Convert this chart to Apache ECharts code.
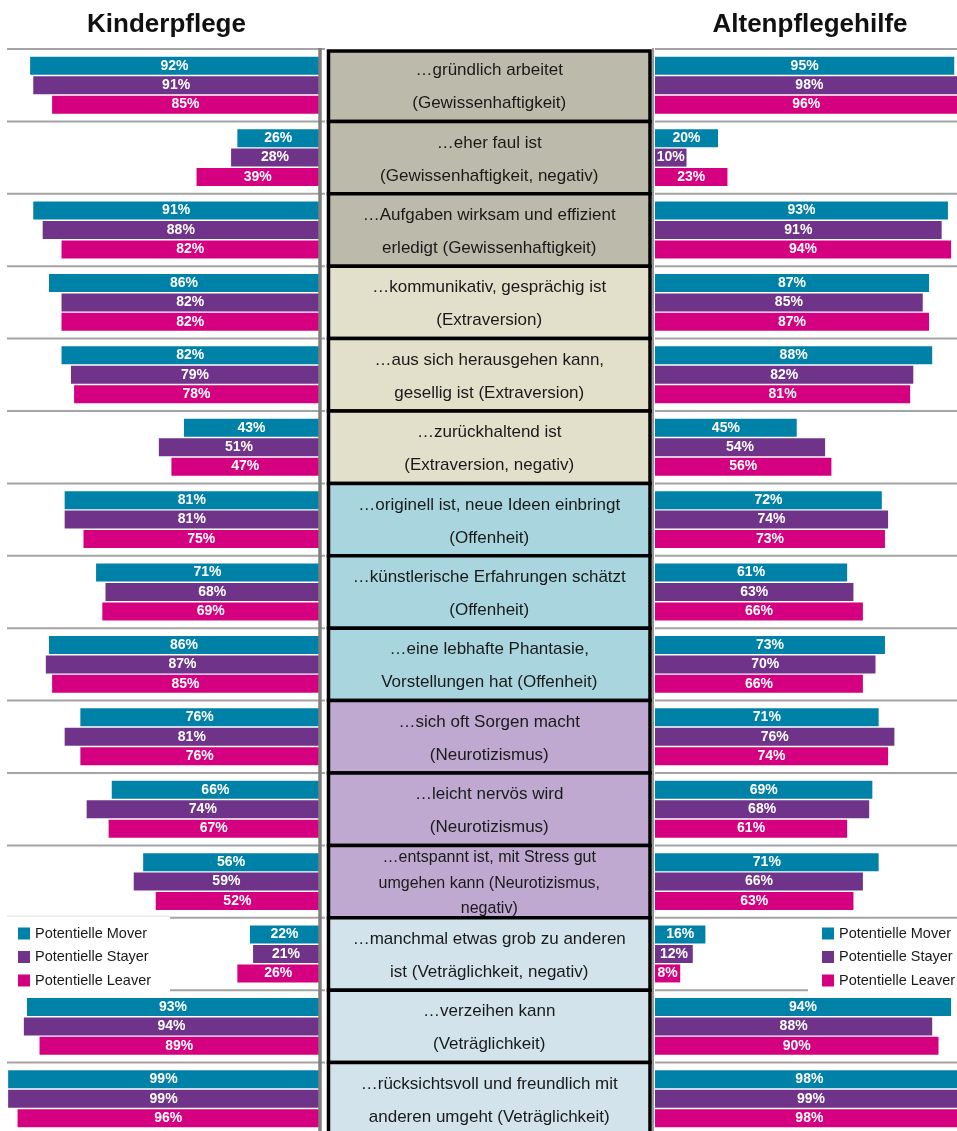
<!DOCTYPE html>
<html>
<head>
<meta charset="utf-8">
<script src="https://cdn.jsdelivr.net/npm/echarts@6/dist/echarts.min.js"></script>
<style>
  html, body { margin: 0; padding: 0; background: #fff; }
  #chart { width: 957px; height: 1131px; }
</style>
</head>
<body>
<div id="chart"></div>
<script>
// Items of the personality questionnaire ("Ich bin jemand, der ...")
const items = [
  '…gründlich arbeitet\n(Gewissenhaftigkeit)',
  '…eher faul ist\n(Gewissenhaftigkeit, negativ)',
  '…Aufgaben wirksam und effizient\nerledigt (Gewissenhaftigkeit)',
  '…kommunikativ, gesprächig ist\n(Extraversion)',
  '…aus sich herausgehen kann,\ngesellig ist (Extraversion)',
  '…zurückhaltend ist\n(Extraversion, negativ)',
  '…originell ist, neue Ideen einbringt\n(Offenheit)',
  '…künstlerische Erfahrungen schätzt\n(Offenheit)',
  '…eine lebhafte Phantasie,\nVorstellungen hat (Offenheit)',
  '…sich oft Sorgen macht\n(Neurotizismus)',
  '…leicht nervös wird\n(Neurotizismus)',
  '…entspannt ist, mit Stress gut\numgehen kann (Neurotizismus,\nnegativ)',
  '…manchmal etwas grob zu anderen\nist (Veträglichkeit, negativ)',
  '…verzeihen kann\n(Veträglichkeit)',
  '…rücksichtsvoll und freundlich mit\nanderen umgeht (Veträglichkeit)'
];
const traits = [
  'Gewissenhaftigkeit', 'Gewissenhaftigkeit', 'Gewissenhaftigkeit',
  'Extraversion', 'Extraversion', 'Extraversion',
  'Offenheit', 'Offenheit', 'Offenheit',
  'Neurotizismus', 'Neurotizismus', 'Neurotizismus',
  'Verträglichkeit', 'Verträglichkeit', 'Verträglichkeit'
];
const seriesNames = ['Potentielle Mover', 'Potentielle Stayer', 'Potentielle Leaver'];
const panelTitles = ['Kinderpflege', 'Altenpflegehilfe'];

// Kinderpflege (percent agreeing)
const kinderMover  = [92, 26, 91, 86, 82, 43, 81, 71, 86, 76, 66, 56, 22, 93, 99];
const kinderStayer = [91, 28, 88, 82, 79, 51, 81, 68, 87, 81, 74, 59, 21, 94, 99];
const kinderLeaver = [85, 39, 82, 82, 78, 47, 75, 69, 85, 76, 67, 52, 26, 89, 96];
// Altenpflegehilfe (percent agreeing)
const altenMover  = [95, 20, 93, 87, 88, 45, 72, 61, 73, 71, 69, 71, 16, 94, 98];
const altenStayer = [98, 10, 91, 85, 82, 54, 74, 63, 70, 76, 68, 66, 12, 88, 99];
const altenLeaver = [96, 23, 94, 87, 81, 56, 73, 66, 66, 74, 61, 63,  8, 90, 98];

// ---- styling / layout ----
const FONT = '"Liberation Sans", Arial, Helvetica, sans-serif';
const seriesColors = ['#0081A8', '#6F3489', '#D5007F'];
const traitColors = {
  'Gewissenhaftigkeit': '#BCBAAA',
  'Extraversion': '#E2DFCB',
  'Offenheit': '#A9D6DE',
  'Neurotizismus': '#BFA9D1',
  'Verträglichkeit': '#D2E3EC'
};
const TOP = 49;
const ROW_H = 72.4;
const N = items.length;
const LEFT_ZERO = 319, SCALE_W = 314;
const RIGHT_ZERO = 655;
const CELL_X0 = 328.5, CELL_X1 = 650;

const rowIdx = items.map((_, i) => String(i));

function barSeries(name, data, idx, color) {
  return {
    name: name,
    type: 'bar',
    xAxisIndex: idx,
    yAxisIndex: idx,
    data: data,
    barWidth: 18,
    barGap: '8%',
    itemStyle: { color: color },
    label: {
      show: true,
      position: 'inside',
      formatter: '{c}%',
      color: '#fff',
      fontWeight: 'bold',
      fontSize: 14,
      fontFamily: FONT
    }
  };
}

const graphics = [];

// panel titles
graphics.push({ type: 'text', x: 166.5, y: 25, style: { text: panelTitles[0], textAlign: 'center', textVerticalAlign: 'middle', font: 'bold 26px ' + FONT, fill: '#111' } });
graphics.push({ type: 'text', x: 810, y: 25, style: { text: panelTitles[1], textAlign: 'center', textVerticalAlign: 'middle', font: 'bold 26px ' + FONT, fill: '#111' } });

// row separators in both bar panels
for (let k = 0; k <= N; k++) {
  const y = TOP + k * ROW_H;
  let lx0 = 7, rx1 = 957;
  if (k === 12 || k === 13) lx0 = 170;
  if (k === 13) rx1 = 808;
  if (k === 12) {
    graphics.push({ type: 'line', shape: { x1: 7, y1: y - 1.5, x2: 170, y2: y - 1.5 }, style: { stroke: '#ececec', lineWidth: 1.5 }, z: 1 });
  }
  graphics.push({ type: 'line', shape: { x1: lx0, y1: y, x2: 325, y2: y }, style: { stroke: '#a3a3a3', lineWidth: 2 }, z: 1 });
  graphics.push({ type: 'line', shape: { x1: RIGHT_ZERO, y1: y, x2: rx1, y2: y }, style: { stroke: '#a3a3a3', lineWidth: 2 }, z: 1 });
}

// vertical axis lines beside the item column
graphics.push({ type: 'line', shape: { x1: 320, y1: TOP - 1, x2: 320, y2: 1131 }, style: { stroke: '#7f7f7f', lineWidth: 3.5 }, z: 3 });
graphics.push({ type: 'line', shape: { x1: 653, y1: TOP - 1, x2: 653, y2: 1131 }, style: { stroke: '#9a9a9a', lineWidth: 2 }, z: 3 });

// item column: coloured cells with the item wording
for (let i = 0; i < N; i++) {
  const y0 = TOP + i * ROW_H;
  graphics.push({
    type: 'rect',
    shape: { x: CELL_X0, y: y0 + (i === 0 ? 2 : 0), width: CELL_X1 - CELL_X0, height: ROW_H - (i === 0 ? 2 : 0) },
    style: { fill: traitColors[traits[i]], stroke: '#000', lineWidth: 3.5 },
    z: 4
  });
  const lines = items[i].split('\n').length;
  graphics.push({
    type: 'text',
    x: (CELL_X0 + CELL_X1) / 2,
    y: y0 + 38,
    style: {
      text: items[i],
      textAlign: 'center',
      textVerticalAlign: 'middle',
      font: (lines === 3 ? '16px ' : '17px ') + FONT,
      lineHeight: lines === 3 ? 25.5 : 33,
      fill: '#1a1a1a'
    },
    z: 4
  });
}

const legendBase = {
  orient: 'vertical',
  data: seriesNames,
  icon: 'rect',
  itemWidth: 12,
  itemHeight: 12,
  itemGap: 8.5,
  padding: 0,
  top: 926,
  selectedMode: false,
  textStyle: { fontSize: 14.5, lineHeight: 15, fontFamily: FONT, color: '#1a1a1a' }
};

const option = {
  animation: false,
  backgroundColor: '#fff',
  textStyle: { fontFamily: FONT },
  legend: [
    Object.assign({}, legendBase, { left: 18 }),
    Object.assign({}, legendBase, { left: 822 })
  ],
  grid: [
    { left: LEFT_ZERO - SCALE_W, top: TOP, width: SCALE_W, height: N * ROW_H, outerBoundsMode: 'none' },
    { left: RIGHT_ZERO, top: TOP, width: SCALE_W + 1, height: N * ROW_H, outerBoundsMode: 'none' }
  ],
  xAxis: [
    { type: 'value', gridIndex: 0, min: 0, max: 100, inverse: true, show: false },
    { type: 'value', gridIndex: 1, min: 0, max: 100, show: false }
  ],
  yAxis: [
    { type: 'category', gridIndex: 0, data: rowIdx, inverse: true, show: false },
    { type: 'category', gridIndex: 1, data: rowIdx, inverse: true, show: false }
  ],
  series: [
    barSeries(seriesNames[0], kinderMover, 0, seriesColors[0]),
    barSeries(seriesNames[1], kinderStayer, 0, seriesColors[1]),
    barSeries(seriesNames[2], kinderLeaver, 0, seriesColors[2]),
    barSeries(seriesNames[0], altenMover, 1, seriesColors[0]),
    barSeries(seriesNames[1], altenStayer, 1, seriesColors[1]),
    barSeries(seriesNames[2], altenLeaver, 1, seriesColors[2])
  ],
  graphic: { elements: graphics }
};

const chart = echarts.init(document.getElementById('chart'), null, { renderer: 'canvas' });
chart.setOption(option);
</script>
</body>
</html>
